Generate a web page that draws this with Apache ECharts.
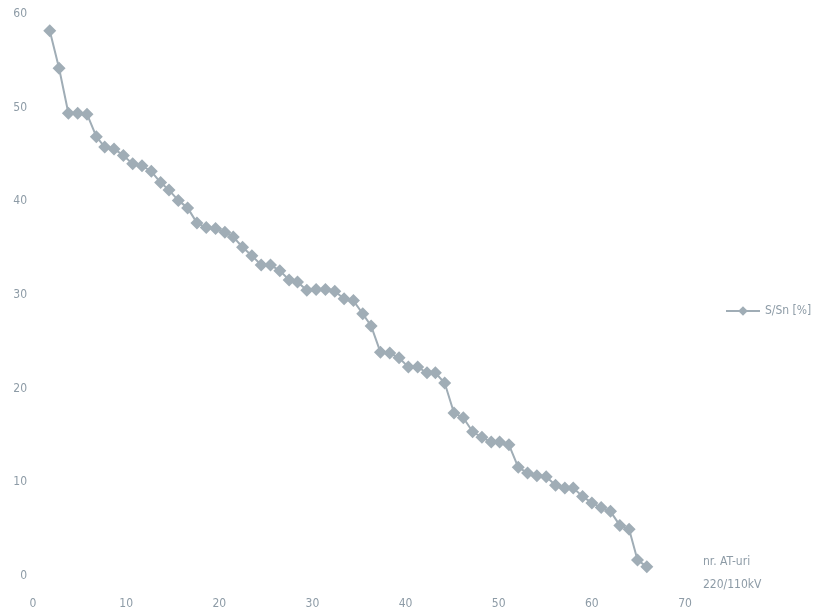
<!DOCTYPE html>
<html>
<head>
<meta charset="utf-8">
<script src="https://cdn.jsdelivr.net/npm/echarts@6/dist/echarts.min.js"></script>
<style>
html,body{margin:0;padding:0;background:#fff;}
#chart{width:824px;height:616px;}
</style>
</head>
<body>
<div id="chart"></div>
<script>
// Unit number (x)
var unitNo = [1.8, 2.8, 3.8, 4.8, 5.8, 6.8, 7.7, 8.7, 9.7, 10.7,
  11.7, 12.7, 13.7, 14.6, 15.6, 16.6, 17.6, 18.6, 19.6, 20.6,
  21.5, 22.5, 23.5, 24.5, 25.5, 26.5, 27.5, 28.4, 29.4, 30.4,
  31.4, 32.4, 33.4, 34.4, 35.4, 36.3, 37.3, 38.3, 39.3, 40.3,
  41.3, 42.3, 43.2, 44.2, 45.2, 46.2, 47.2, 48.2, 49.2, 50.1,
  51.1, 52.1, 53.1, 54.1, 55.1, 56.1, 57.1, 58.0, 59.0, 60.0,
  61.0, 62.0, 63.0, 64.0, 64.9, 65.9];
// Loading S/Sn [%]
var loadPct = [58.2, 54.2, 49.4, 49.4, 49.3, 46.9, 45.8, 45.6, 44.9, 44.0,
  43.8, 43.2, 42.0, 41.2, 40.1, 39.3, 37.7, 37.2, 37.1, 36.7,
  36.2, 35.1, 34.2, 33.2, 33.2, 32.6, 31.6, 31.4, 30.5, 30.6,
  30.6, 30.4, 29.6, 29.4, 28.0, 26.7, 23.9, 23.8, 23.3, 22.3,
  22.3, 21.7, 21.7, 20.6, 17.4, 16.9, 15.4, 14.8, 14.3, 14.3,
  14.0, 11.6, 11.0, 10.7, 10.6, 9.7, 9.4, 9.4, 8.5, 7.8,
  7.3, 6.9, 5.4, 5.0, 1.7, 1.0];
var seriesName = 'S/Sn [%]';
var xAxisTitle = ['nr. AT-uri', '220/110kV'];

var points = unitNo.map(function (x, i) { return [x, loadPct[i]]; });

var textColor = '#8d9ba6';
var markColor = '#a0adb6';
var fontFam = '"Liberation Sans Narrow", "DejaVu Sans Condensed", "Liberation Sans", sans-serif';

var chart = echarts.init(document.getElementById('chart'), null, {renderer: 'canvas'});
chart.setOption({
  backgroundColor: '#ffffff',
  animation: false,
  grid: {left: 33, top: 14, width: 652, height: 562, containLabel: false},
  xAxis: {
    type: 'value', min: 0, max: 70, interval: 10,
    axisLine: {show: false}, axisTick: {show: false}, splitLine: {show: false},
    axisLabel: {color: textColor, fontSize: 12, fontFamily: fontFam, margin: 22}
  },
  yAxis: {
    type: 'value', min: 0, max: 60, interval: 10,
    axisLine: {show: false}, axisTick: {show: false}, splitLine: {show: false},
    axisLabel: {color: textColor, fontSize: 12, fontFamily: fontFam, margin: 6}
  },
  legend: {
    left: 720, top: 300, orient: 'vertical',
    itemWidth: 34, itemHeight: 12, itemGap: 4,
    textStyle: {color: textColor, fontSize: 12, fontFamily: fontFam},
    data: [seriesName]
  },
  graphic: [{
    type: 'text', left: 703, top: 550,
    style: {
      text: xAxisTitle.join('\n'),
      fill: textColor, font: '12px ' + fontFam, lineHeight: 23
    }
  }],
  series: [{
    name: seriesName, type: 'line', data: points,
    symbol: 'diamond', symbolSize: 13, showAllSymbol: true,
    lineStyle: {color: markColor, width: 2},
    itemStyle: {color: markColor}
  }]
});
</script>
</body>
</html>
